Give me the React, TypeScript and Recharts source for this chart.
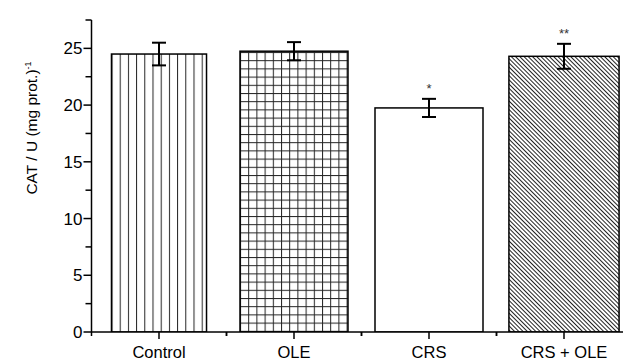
import { BarChart, Bar, XAxis, YAxis, ErrorBar, ReferenceDot } from "recharts";

const groups = ["Control", "OLE", "CRS", "CRS + OLE"];
const means = [24.5, 24.75, 19.75, 24.3];
const errors = [1.0, 0.8, 0.8, 1.1];
const marks = ["", "", "*", "**"];
const yTicks = [0, 2.5, 5, 7.5, 10, 12.5, 15, 17.5, 20, 22.5, 25, 27.5];

const fills = ["url(#vlines)", "url(#grid)", "#fff", "url(#diag)"];
const widthScale = [0.88, 1, 1, 1.02];

const data = groups.map((name, i) => ({ name, value: means[i], err: errors[i] }));

const font = "'Liberation Sans', Arial, sans-serif";

function BarShape(props: any) {
  const { x, y, width, height, index } = props;
  const w = width * (widthScale[index] ?? 1);
  return (
    <rect
      x={x + (width - w) / 2}
      y={y}
      width={w}
      height={height}
      fill={fills[index]}
      stroke="#000"
      strokeWidth={1.5}
    />
  );
}

function YTick(props: any) {
  const { x, y, payload } = props;
  const major = payload.value % 5 === 0;
  return (
    <g>
      <line x1={x - (major ? 8 : 6)} x2={x} y1={y} y2={y} stroke="#000" strokeWidth={1.5} />
      {major && (
        <text x={x - 9} y={y} dy="0.36em" textAnchor="end" fontSize={17} fontFamily={font} fill="#000">
          {payload.value}
        </text>
      )}
    </g>
  );
}

function XTick(props: any) {
  const { x, y, payload } = props;
  const half = payload.offset ?? 0;
  return (
    <g>
      <line x1={x} x2={x} y1={y} y2={y + 7} stroke="#000" strokeWidth={1.5} />
      <line x1={x - half} x2={x - half} y1={y} y2={y + 4} stroke="#000" strokeWidth={1.5} />
      <line x1={x + half} x2={x + half} y1={y} y2={y + 4} stroke="#000" strokeWidth={1.5} />
      <text x={x} y={y + 25.5} textAnchor="middle" fontSize={16.5} fontFamily={font} fill="#000">
        {payload.value}
      </text>
    </g>
  );
}

function YTitle() {
  return (
    <text
      transform="translate(37,128) rotate(-90)"
      textAnchor="middle"
      fontSize={15.5}
      fontFamily={font}
      fill="#000"
    >
      CAT / U (mg prot.)
      <tspan dy={-6} fontSize={9}>-1</tspan>
    </text>
  );
}

export default function App() {
  return (
    <div style={{ width: 623, height: 361, overflow: "hidden", background: "#fff" }}>
      <style>{"body{margin:0}"}</style>
      <BarChart
        width={640}
        height={361}
        data={data}
        margin={{ top: 20, right: 8.5, left: 0, bottom: 0 }}
        barCategoryGap="10%"
      >
        <defs>
          <pattern id="vlines" patternUnits="userSpaceOnUse" width={8.2} height={10} x={111.5}>
            <line x1={0.5} x2={0.5} y1={0} y2={10} stroke="#222" strokeWidth={1} />
          </pattern>
          <pattern id="grid" patternUnits="userSpaceOnUse" width={8.2} height={8.2} x={240} y={52}>
            <rect width={8.2} height={8.2} fill="#fff" />
            <line x1={0.5} x2={0.5} y1={0} y2={8.2} stroke="#222" strokeWidth={1} />
            <line x1={0} x2={8.2} y1={0.5} y2={0.5} stroke="#222" strokeWidth={1} />
          </pattern>
          <pattern id="diag" patternUnits="userSpaceOnUse" width={3} height={10} patternTransform="rotate(-45)">
            <rect width={3} height={10} fill="#fff" />
            <line x1={0.5} x2={0.5} y1={0} y2={10} stroke="#222" strokeWidth={1} />
          </pattern>
        </defs>
        <XAxis
          dataKey="name"
          type="category"
          interval={0}
          height={29}
          tickSize={0}
          tickMargin={0}
          tickLine={false}
          tick={<XTick />}
          axisLine={{ stroke: "#000", strokeWidth: 1.5 }}
        />
        <YAxis
          width={91.5}
          domain={[0, 27.5]}
          ticks={yTicks}
          interval={0}
          tickSize={0}
          tickMargin={0}
          tickLine={false}
          tick={<YTick />}
          axisLine={{ stroke: "#000", strokeWidth: 1.5 }}
          label={<YTitle />}
          allowDataOverflow
        />
        <Bar dataKey="value" shape={<BarShape />} isAnimationActive={false}>
          <ErrorBar dataKey="err" width={7} strokeWidth={2} stroke="#000" />
        </Bar>
        {groups.map((g, i) =>
          marks[i] ? (
            <ReferenceDot
              key={g}
              x={g}
              y={means[i] + errors[i]}
              r={0}
              stroke="none"
              label={{ value: marks[i], position: "top", offset: 6, fontSize: 13, fill: "#333", fontFamily: font }}
            />
          ) : null
        )}
      </BarChart>
    </div>
  );
}
